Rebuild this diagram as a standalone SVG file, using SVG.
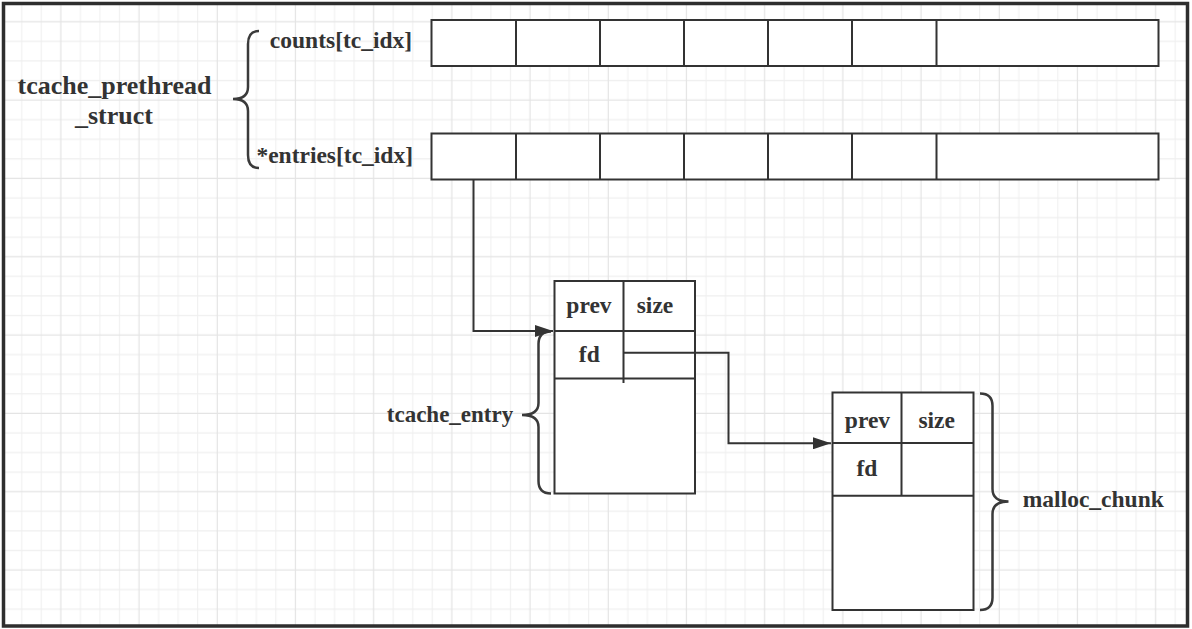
<svg xmlns="http://www.w3.org/2000/svg" width="1192" height="629" viewBox="0 0 1192 629">
<style>
.t{font-family:"Liberation Serif","Times New Roman",serif;font-weight:bold;fill:#333;text-anchor:middle}
.box{fill:#fff;stroke:#333;stroke-width:2}
.ln{stroke:#333;stroke-width:2;fill:none}
.br{stroke:#3a3a3a;stroke-width:2.5;fill:none}
.conn{stroke:#333;stroke-width:2;fill:none}
</style>
<defs>
<pattern id="grid" patternUnits="userSpaceOnUse" x="11.975" y="-27.17" width="78.2" height="78.32">
<path d="M9.775,0V78.32M29.325,0V78.32M68.425,0V78.32M0,9.79H78.2M0,29.37H78.2M0,68.53H78.2" stroke="#efefef" stroke-width="1" fill="none"/>
<path d="M48.875,0V78.32M0,48.95H78.2" stroke="#e4e4e4" stroke-width="1.2" fill="none"/>
</pattern>
<marker id="arr" markerUnits="userSpaceOnUse" markerWidth="18" markerHeight="12" refX="18" refY="6" orient="auto">
<path d="M0,0 L18,6 L0,12 z" fill="#333"/>
</marker>
</defs>
<rect x="0" y="0" width="1192" height="629" fill="#fff"/>
<rect x="3.5" y="3.5" width="1184" height="622.5" fill="url(#grid)" stroke="#2e2e2e" stroke-width="3.5"/>

<g id="tcache_prethread_struct">
<text class="t" x="114.5" y="93.5" font-size="26">tcache_prethread</text>
<text class="t" x="114" y="124" font-size="26">_struct</text>
<path class="br" d="M259,31 Q248,31 248,44 V87 Q248,99 233,99 Q248,99 248,111 V155 Q248,168 259,168"/>
</g>

<g id="counts">
<text class="t" x="341" y="48.3" font-size="23.5">counts[tc_idx]</text>
<rect class="box" x="431.5" y="20" width="727" height="46"/>
<path class="ln" d="M516,20V66M600,20V66M684,20V66M768,20V66M852,20V66M936.5,20V66"/>
</g>

<g id="entries">
<text class="t" x="334.7" y="163.3" font-size="23.5">*entries[tc_idx]</text>
<rect class="box" x="431.5" y="133.5" width="727" height="46"/>
<path class="ln" d="M516,133.5V179.5M600,133.5V179.5M684,133.5V179.5M768,133.5V179.5M852,133.5V179.5M936.5,133.5V179.5"/>
</g>

<g id="tcache_entry">
<rect class="box" x="554.5" y="281" width="140.5" height="212.5"/>
<path class="ln" d="M554.5,331H695M554.5,378.5H695M623.5,281V383"/>
<text class="t" x="589" y="313.3" font-size="23.5">prev</text>
<text class="t" x="655" y="313.3" font-size="23.5">size</text>
<text class="t" x="589.3" y="361.7" font-size="23.5">fd</text>
<path class="br" d="M551,331.5 Q538.5,331.5 538.5,344 V403 Q538.5,415 522,415 Q538.5,415 538.5,427 V481 Q538.5,493.5 551,493.5"/>
<text class="t" x="450" y="422.3" font-size="23">tcache_entry</text>
</g>

<g id="malloc_chunk">
<rect class="box" x="832.5" y="392.5" width="141" height="217.5"/>
<path class="ln" d="M832.5,443H973.5M832.5,495.7H973.5M901.5,392.5V495.7"/>
<text class="t" x="867.5" y="427.5" font-size="23.5">prev</text>
<text class="t" x="936.7" y="427.5" font-size="23.5">size</text>
<text class="t" x="867" y="475.5" font-size="23.5">fd</text>
<path class="br" d="M980,393.5 Q992.5,393.5 992.5,406 V489 Q992.5,501.5 1008.5,501.5 Q992.5,501.5 992.5,514 V597.5 Q992.5,610 980,610"/>
<text class="t" x="1093.3" y="507.3" font-size="23.5">malloc_chunk</text>
</g>

<g id="connectors">
<path class="conn" d="M473.5,179.5 V331 H553" marker-end="url(#arr)"/>
<path class="conn" d="M623.5,352.7 H728.5 V443.3 H831" marker-end="url(#arr)"/>
</g>
</svg>
